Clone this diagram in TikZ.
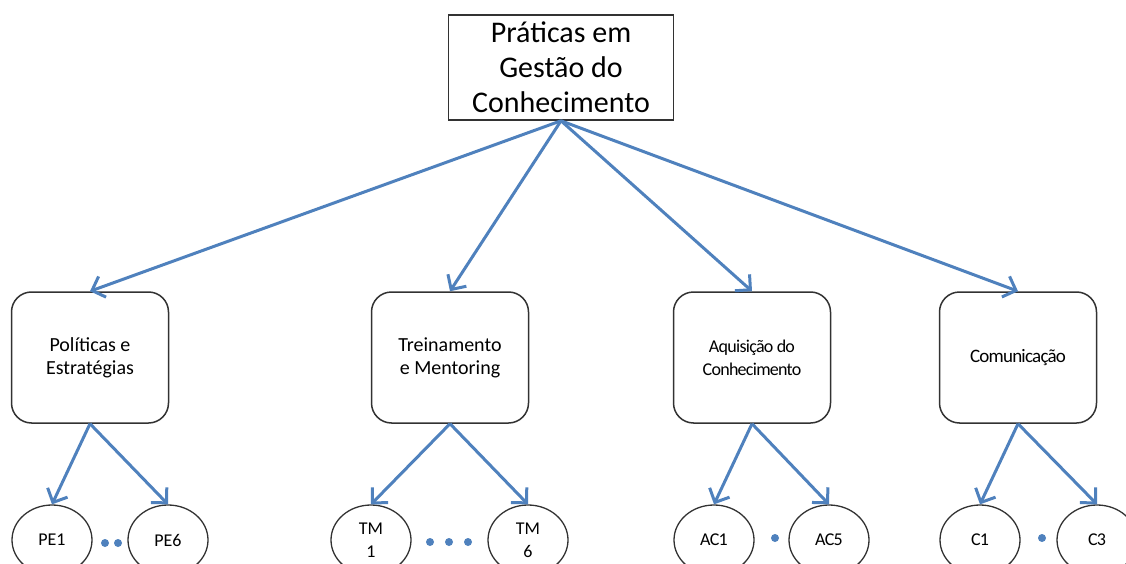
\documentclass[tikz,border=0pt]{standalone}
\usepackage{fontspec}
\setmainfont{Carlito}
\usepackage{tikz}
\usetikzlibrary{positioning, arrows.meta, shapes.geometric}
\definecolor{linkblue}{RGB}{79,129,189}
\definecolor{boxgray}{RGB}{50,50,50}

\begin{document}
\begin{tikzpicture}[
        x=1pt, y=-1pt,
        root/.style={draw=boxgray, line width=1.6pt, minimum width=225pt, minimum height=105pt, align=center, inner sep=0pt, font=\fontsize{30}{35}\selectfont},
        area/.style={draw=boxgray, line width=1.5pt, rounded corners=20pt, minimum width=157pt, minimum height=131pt, align=center, inner sep=0pt, font=\fontsize{20}{23}\selectfont},
        item/.style={ellipse, draw=boxgray, line width=1.3pt, minimum width=80pt, minimum height=70pt, inner sep=0pt, align=center, font=\fontsize{18}{23}\selectfont},
        gap/.style={circle, fill=linkblue, inner sep=0pt, minimum size=8pt},
        link/.style={-{Straight Barb[length=11pt, width=22pt]}, line width=3pt, linkblue},
    ]
    \useasboundingbox (0,0) rectangle (1126,564);

    % Root
    \node[root] (praticas) at (561,67.5) {Práticas em\\Gestão do\\Conhecimento};

    % Areas
    \node[area] (politicas) at (90,357.5) {Políticas e\\Estratégias};
    \node[area] (treino) at (450,357.5) {Treinamento\\e Mentoring};
    \node[area] (aquisicao) at (752,357.5) {\fontsize{18}{23}\selectfont\addfontfeatures{LetterSpace=-4}Aquisição do\\\fontsize{18}{23}\selectfont\addfontfeatures{LetterSpace=-4}Conhecimento};
    \node[area] (comunic) at (1018,357.5) {\fontsize{19}{23}\selectfont\addfontfeatures{LetterSpace=-4}Comunicação};

    % Practices
    \node[item] (pe1) at (52,540) {PE1};
    \node[item] (pe6) at (168,540) {PE6};
    \node[item] (tm1) at (371,540) {TM\\1};
    \node[item] (tm6) at (528,540) {TM\\6};
    \node[item] (ac1) at (714,540) {\addfontfeatures{LetterSpace=-4}AC1};
    \node[item] (ac5) at (829,540) {\addfontfeatures{LetterSpace=-4}AC5};
    \node[item] (c1) at (980,540) {\addfontfeatures{LetterSpace=-4}C1};
    \node[item] (c3) at (1097,540) {\addfontfeatures{LetterSpace=-4}C3};

    % Ellipsis dots
    \node[gap] (pedot1) at (105,543) {};
    \node[gap] (pedot2) at (118,543) {};
    \node[gap] (tmdot1) at (430,542) {};
    \node[gap] (tmdot2) at (449,542) {};
    \node[gap] (tmdot3) at (468,542) {};
    \node[gap] (acdot) at (775,538) {};
    \node[gap] (cdot) at (1042,538) {};

    % Links
    \foreach \a in {politicas, treino, aquisicao, comunic}
        \draw[link] (praticas.south) -- (\a.north);
    \draw[link] (politicas.south) -- (pe1.north);
    \draw[link] (politicas.south) -- (pe6.north);
    \draw[link] (treino.south) -- (tm1.north);
    \draw[link] (treino.south) -- (tm6.north);
    \draw[link] (aquisicao.south) -- (ac1.north);
    \draw[link] (aquisicao.south) -- (ac5.north);
    \draw[link] (comunic.south) -- (c1.north);
    \draw[link] (comunic.south) -- (c3.north);

    \end{tikzpicture}
\end{document}
